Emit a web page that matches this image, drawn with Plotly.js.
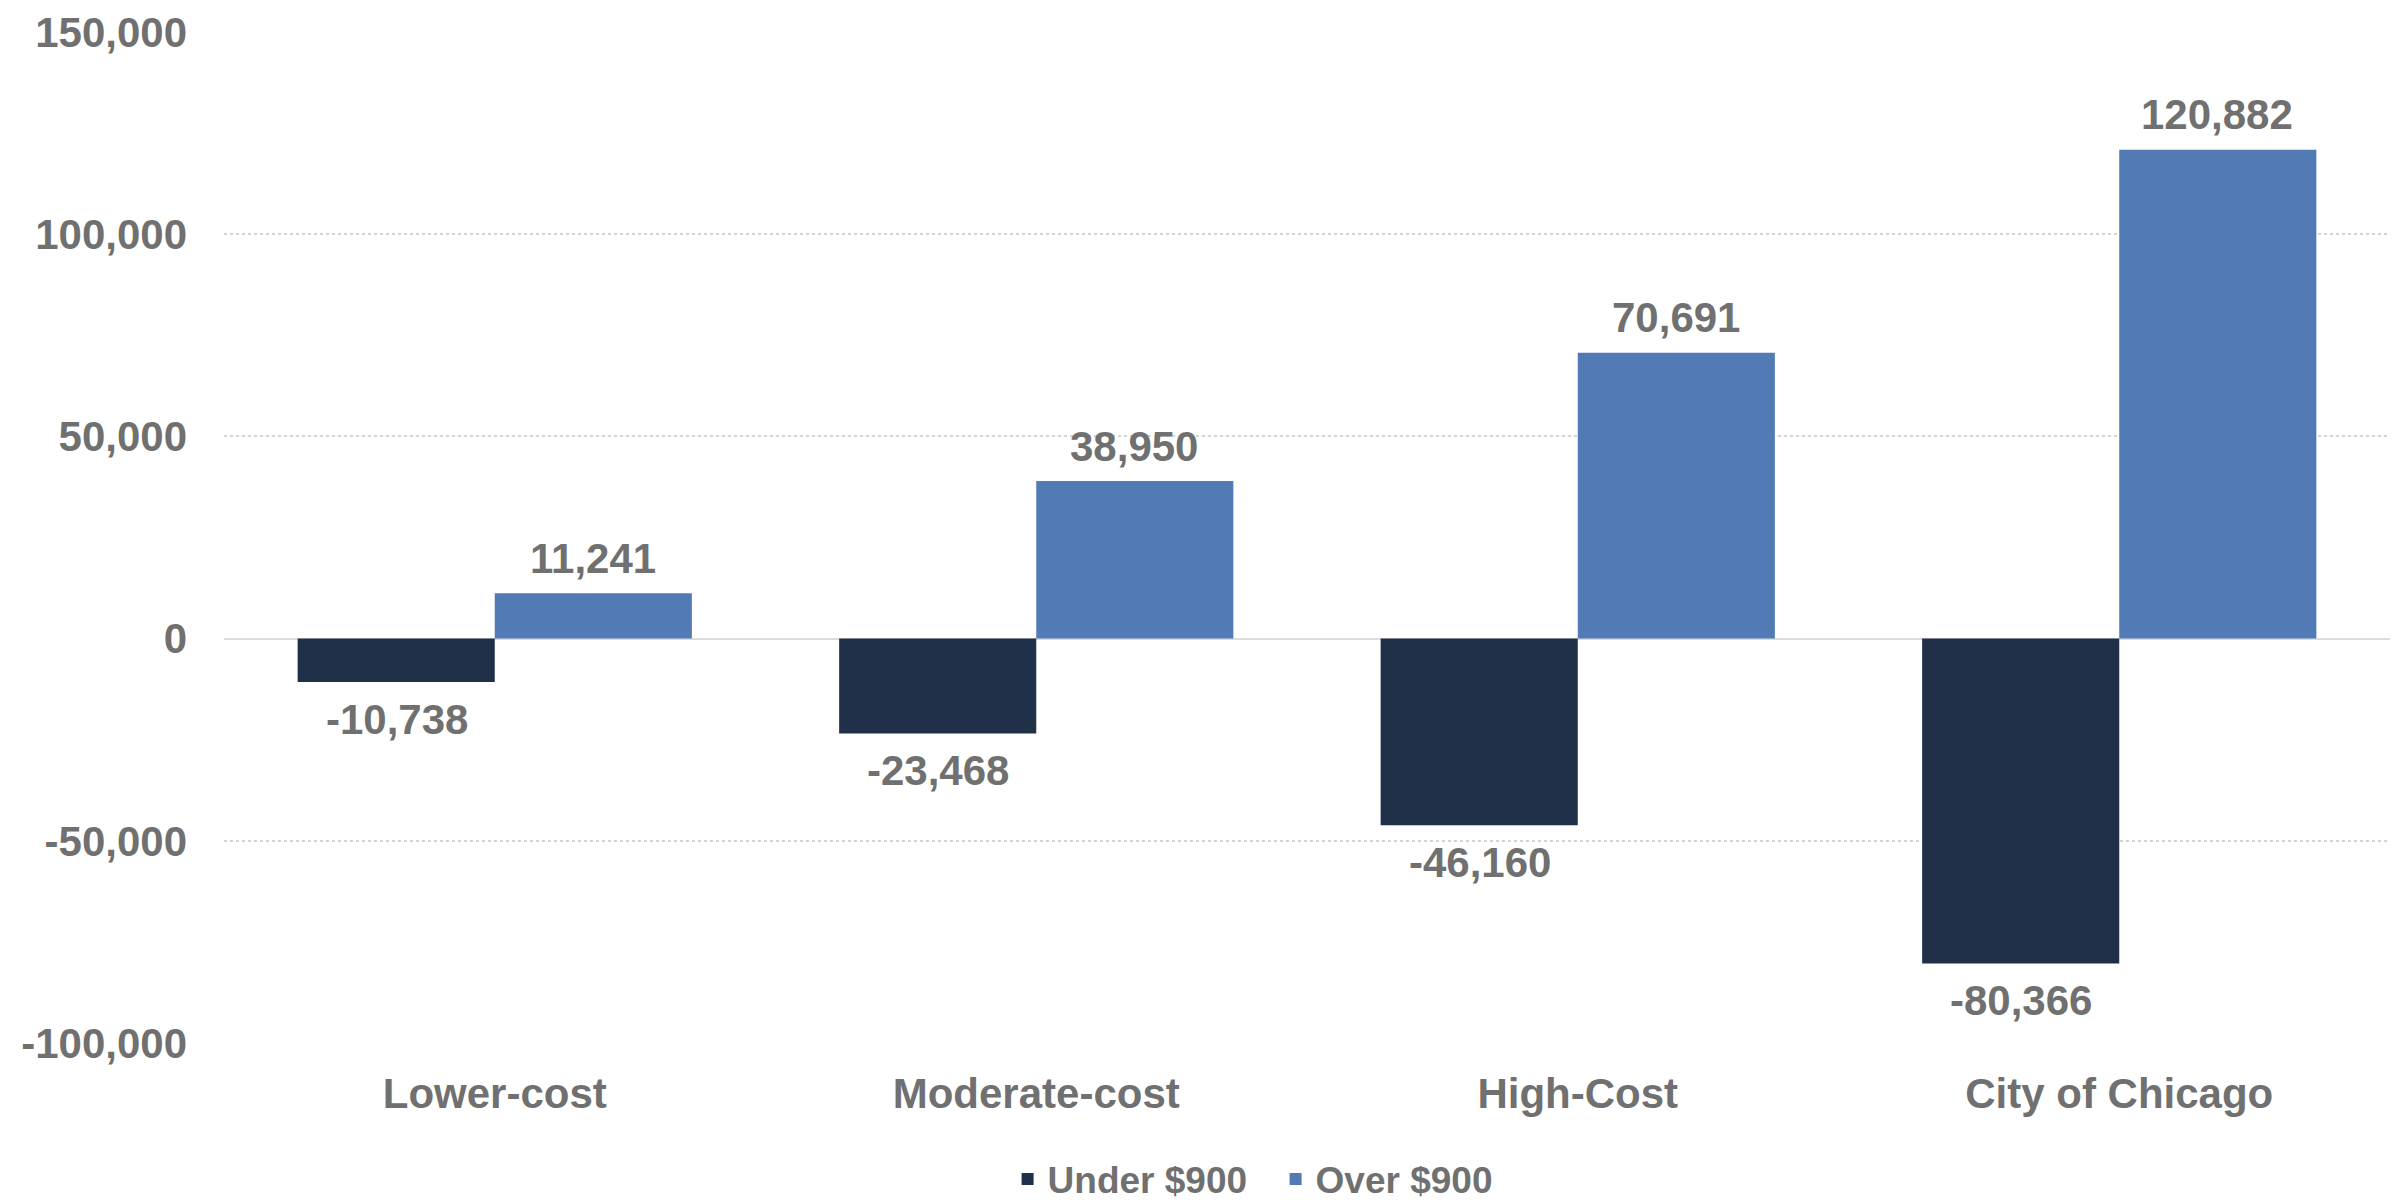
<!DOCTYPE html>
<html>
<head>
<meta charset="utf-8">
<script src="https://cdn.plot.ly/plotly-3.0.1.min.js"></script>
<style>html,body{margin:0;padding:0;background:#fff}#chart{width:2402px;height:1204px}</style>
</head>
<body>
<div id="chart"></div>
<script>
const categories = ["Lower-cost", "Moderate-cost", "High-Cost", "City of Chicago"];
const underValues = [-10738, -23468, -46160, -80366];
const overValues = [11241, 38950, 70691, 120882];
const seriesNames = ["Under $900", "Over $900"];
const yTickValues = [-100000, -50000, 0, 50000, 100000, 150000];

const textColor = "#707070";
const fontFamily = "Liberation Sans, Arial, sans-serif";
const fmt = v => v.toLocaleString("en-US");

const traces = [
  {type: "bar", name: seriesNames[0], x: categories, y: underValues,
   marker: {color: "#203048"}, hoverinfo: "none"},
  {type: "bar", name: seriesNames[1], x: categories, y: overValues,
   marker: {color: "#527AB5"}, hoverinfo: "none"}
];

const annotations = [];
categories.forEach((c, i) => {
  annotations.push({x: c, y: underValues[i], xref: "x", yref: "y", text: fmt(underValues[i]),
    showarrow: false, xshift: -98, yshift: -37, yanchor: "middle",
    font: {family: fontFamily, size: 42, color: textColor, weight: "bold"}});
  annotations.push({x: c, y: overValues[i], xref: "x", yref: "y", text: fmt(overValues[i]),
    showarrow: false, xshift: 98, yshift: 35, yanchor: "middle",
    font: {family: fontFamily, size: 42, color: textColor, weight: "bold"}});
});

const layout = {
  width: 2402, height: 1204,
  margin: {l: 224, r: 12, t: 32, b: 161, autoexpand: false},
  paper_bgcolor: "#fff", plot_bgcolor: "#fff",
  barmode: "group", bargap: 0.272, bargroupgap: 0,
  font: {family: fontFamily, size: 42, color: textColor, weight: "bold"},
  xaxis: {type: "category", showgrid: false, showline: false, ticks: "", automargin: false,
    tickfont: {family: fontFamily, size: 42, color: textColor, weight: "bold"},
    ticklabelstandoff: 22},
  yaxis: {range: [-100000, 150000], tickvals: yTickValues, ticktext: yTickValues.map(fmt),
    automargin: false,
    showgrid: true, gridcolor: "#d4d4d4", gridwidth: 2, griddash: "dot",
    zeroline: true, zerolinecolor: "#dcdcdc", zerolinewidth: 2,
    showline: false, ticks: "", ticklabelstandoff: 36,
    tickfont: {family: fontFamily, size: 42, color: textColor, weight: "bold"}},
  legend: {orientation: "h", x: 0.4855, xanchor: "center", y: -0.135, yanchor: "middle",
    font: {family: fontFamily, size: 37, color: textColor, weight: "bold"},
    entrywidth: 223, entrywidthmode: "pixels", tracegroupgap: 0},
  showlegend: true,
  annotations: annotations
};

Plotly.newPlot("chart", traces, layout, {displayModeBar: false, staticPlot: true});
</script>
</body>
</html>
